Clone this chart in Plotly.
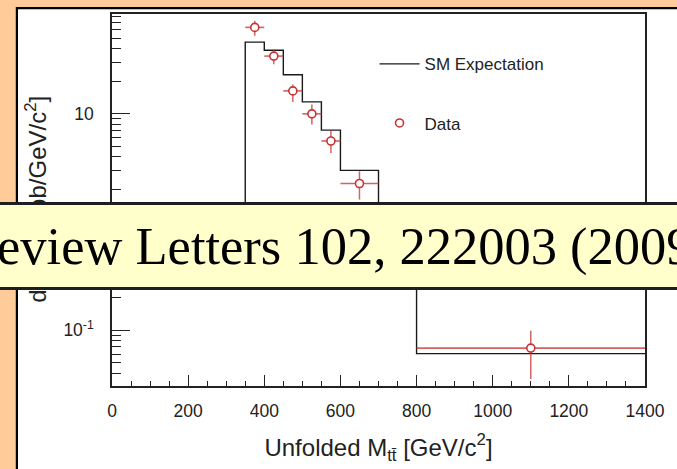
import plotly.graph_objects as go

# ---- data -------------------------------------------------------------
# SM expectation: bin edges [GeV/c^2] and cross section per bin [pb/GeV/c^2]
sm_edges = [350, 400, 450, 500, 550, 600, 700, 800, 1400]
sm_values = [46.0, 38.7, 23.0, 12.9, 7.07, 3.0, 1.2, 0.0607]
sm_floor = 0.3  # where the outline starts at the first edge

# unfolded data points
data_mass = [375, 425, 475, 525, 575, 650, 750, 1100]
data_xsec = [63.0, 34.2, 16.3, 10.0, 5.61, 2.27, 1.0, 0.0683]
data_err_hi = [9.4, 5.1, 2.4, 2.2, 1.45, 0.67, 0.4, 0.0303]
data_err_lo = [10.3, 5.4, 3.4, 2.05, 1.26, 0.66, 0.4, 0.033]
data_halfwidth = [25, 25, 25, 25, 25, 50, 50, 300]

# axis ticks
x_ticks = [0, 200, 400, 600, 800, 1000, 1200, 1400]
y_tickvals = [0.1, 1, 10]
y_ticktext = ["10<sup>-1</sup>", "1", "10"]

banner_text = "Physical Review Letters 102, 222003 (2009)"

# ---- geometry helpers ---------------------------------------------------
W, H = 677, 469
L, R, T, B = 112, 650, 12, 392  # plot area in pixels


def px(xp):
    return (xp - L) / (R - L)


def py(yp):
    return (B - yp) / (B - T)


SANS = "Liberation Sans, Arial, Helvetica, sans-serif"
SERIF = "Liberation Serif, Times New Roman, serif"
RED = "#c83232"

# step outline of the expectation
step_x = [sm_edges[0]] + sm_edges
step_y = [sm_floor] + sm_values + [sm_values[-1]]

fig = go.Figure()
fig.add_trace(go.Scatter(
    x=step_x, y=step_y, mode="lines", line_shape="hv",
    line=dict(color="#1a1a1a", width=1.4),
    name="SM Expectation", legendgroup="sm",
))
fig.add_trace(go.Scatter(
    x=data_mass, y=data_xsec, mode="markers",
    marker=dict(symbol="circle", size=8, color="white",
                line=dict(color=RED, width=1.6)),
    error_y=dict(type="data", array=data_err_hi, arrayminus=data_err_lo,
                 color="rgba(200,60,60,0.8)", thickness=1.5, width=0),
    error_x=dict(type="data", array=data_halfwidth,
                 color="rgba(200,60,60,0.8)", thickness=1.6, width=0),
    name="Data", legendgroup="data",
))

fig.update_layout(
    width=W, height=H,
    margin=dict(l=L, r=W - R, t=T, b=H - B, pad=0),
    paper_bgcolor="#FFCC99",
    plot_bgcolor="white",
    font=dict(family=SANS, color="#222222", size=17),
    showlegend=True,
    legend=dict(
        x=px(377), y=py(45), xanchor="left", yanchor="top",
        bgcolor="rgba(0,0,0,0)", borderwidth=0,
        font=dict(family=SANS, size=17, color="#222222"),
        tracegroupgap=34, itemwidth=40,
    ),
    xaxis=dict(
        range=[0, 1400], tickmode="array", tickvals=x_ticks,
        ticks="inside", ticklen=11, tickwidth=1.4, tickcolor="#222222",
        minor=dict(ticks="inside", ticklen=5.5, dtick=50, tick0=0,
                   tickwidth=1.2, tickcolor="#222222"),
        showline=True, linecolor="#222222", linewidth=1.5, mirror=True,
        showgrid=False, zeroline=False,
        tickfont=dict(size=17.5, family=SANS, color="#222222"),
        ticklabelstandoff=8,
        title=dict(text="Unfolded M<sub>tt\u0304</sub> [GeV/c<sup>2</sup>]",
                   font=dict(size=24, family=SANS, color="#222222"),
                   standoff=19),
    ),
    yaxis=dict(
        type="log", range=[-1.516, 1.923],
        tickmode="array", tickvals=y_tickvals, ticktext=y_ticktext,
        ticks="inside", ticklen=18, tickwidth=1.4, tickcolor="#222222",
        minor=dict(ticks="inside", ticklen=9, dtick="D1",
                   tickwidth=1.2, tickcolor="#222222"),
        showline=True, linecolor="#222222", linewidth=1.5, mirror=True,
        showgrid=False, zeroline=False,
        tickfont=dict(size=17.5, family=SANS, color="#222222"),
        ticklabelstandoff=13,
    ),
    shapes=[
        # white slide panel with dark edge
        dict(type="rect", xref="paper", yref="paper", layer="below",
             x0=px(16), x1=px(720), y0=py(6), y1=py(520),
             fillcolor="white", line=dict(color="black", width=2.2)),
    ],
    annotations=[
        dict(text="d\u03c3/dM<sub>tt\u0304</sub> [pb/GeV/c<sup>2</sup>]",
             xref="paper", yref="paper", x=px(37), y=py(201),
             xanchor="center", yanchor="middle", textangle=-90,
             showarrow=False,
             font=dict(size=24, family=SANS, color="#222222")),
        dict(text=banner_text, xref="paper", yref="paper",
             x=px(-235.6), y=py(204.5), xanchor="left", yanchor="top",
             width=945, height=82, align="left", valign="middle",
             showarrow=False, bgcolor="#FFFFCC",
             bordercolor="#1e1e1e", borderwidth=3, borderpad=0,
             font=dict(size=52.5, family=SERIF, color="black")),
    ],
)

fig.write_html("out.html")
